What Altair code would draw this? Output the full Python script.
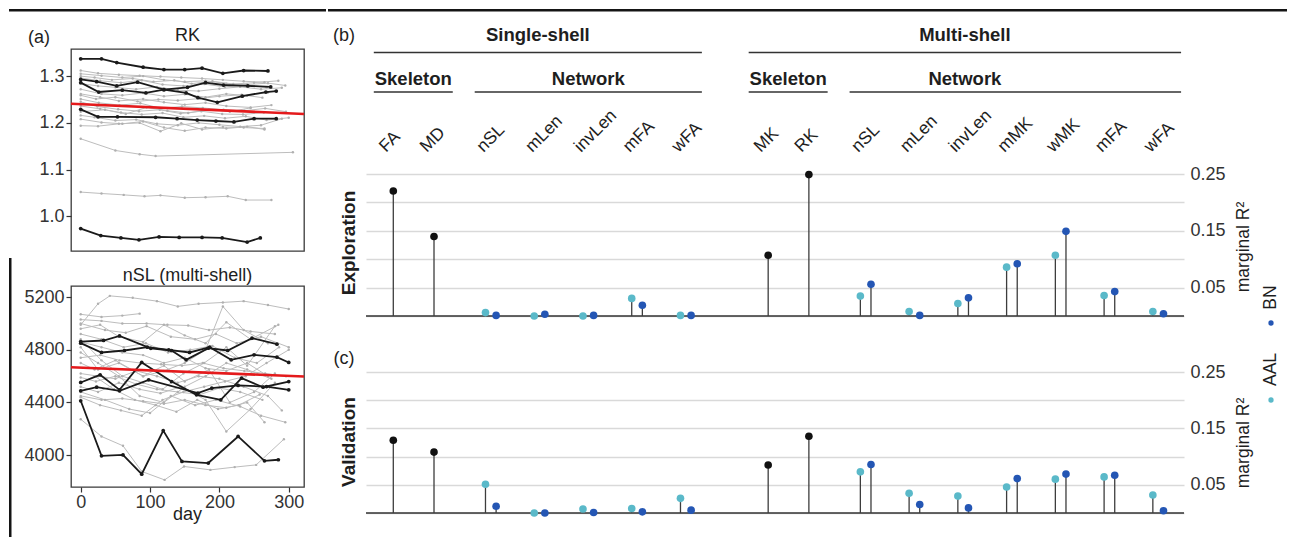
import altair as alt
import pandas as pd

FONT = "Liberation Sans"
INK = "#1e1e1e"
AX = "#333333"

# ---------------- panel (a) data: (days, values) per subject ----------------
RK_BLACK = [
    ([0, 30, 52, 90, 120, 150, 175, 205, 235, 270], [1.337, 1.337, 1.329, 1.319, 1.314, 1.314, 1.317, 1.306, 1.312, 1.311]),
    ([0, 23, 52, 82, 120, 152, 169, 197, 233, 267, 282], [1.293, 1.288, 1.279, 1.287, 1.271, 1.264, 1.254, 1.244, 1.257, 1.266, 1.268]),
    ([0, 26, 60, 94, 120, 154, 180, 206, 241, 274], [1.286, 1.266, 1.270, 1.264, 1.271, 1.276, 1.286, 1.281, 1.279, 1.277]),
    ([0, 25, 53, 108, 139, 168, 195, 221, 250, 282], [1.229, 1.213, 1.213, 1.212, 1.209, 1.206, 1.204, 1.202, 1.209, 1.209]),
    ([0, 29, 58, 84, 113, 142, 175, 204, 240, 259], [0.974, 0.959, 0.954, 0.950, 0.956, 0.955, 0.955, 0.954, 0.945, 0.954]),
]
RK_GREY = [
    ([0, 25, 55, 85, 115, 145, 175, 205, 235, 265], [1.312, 1.306, 1.303, 1.301, 1.299, 1.297, 1.295, 1.292, 1.289, 1.287]),
    ([0, 30, 60, 90, 120, 150, 180, 210, 240, 270, 295], [1.305, 1.301, 1.297, 1.300, 1.292, 1.288, 1.290, 1.284, 1.282, 1.285, 1.280]),
    ([0, 20, 45, 75, 105, 135, 160, 190, 220, 250, 285], [1.300, 1.297, 1.292, 1.295, 1.288, 1.291, 1.284, 1.289, 1.283, 1.286, 1.290]),
    ([0, 28, 58, 88, 118, 148, 178, 208, 238, 268], [1.296, 1.290, 1.286, 1.291, 1.282, 1.279, 1.283, 1.277, 1.281, 1.276]),
    ([0, 25, 50, 80, 110, 140, 170, 200, 230, 260, 290], [1.284, 1.279, 1.276, 1.272, 1.277, 1.270, 1.268, 1.273, 1.277, 1.272, 1.275]),
    ([0, 30, 60, 90, 120, 150, 180, 210, 240, 270], [1.272, 1.262, 1.259, 1.264, 1.257, 1.261, 1.255, 1.262, 1.258, 1.265]),
    ([0, 22, 50, 82, 112, 140, 172, 200, 232, 262], [1.259, 1.251, 1.255, 1.246, 1.250, 1.248, 1.252, 1.257, 1.260, 1.254]),
    ([0, 26, 56, 86, 116, 146, 176, 206, 236, 266, 296], [1.251, 1.243, 1.238, 1.242, 1.231, 1.235, 1.232, 1.228, 1.226, 1.231, 1.224]),
    ([0, 24, 54, 84, 114, 144, 174, 204, 234, 264], [1.245, 1.235, 1.229, 1.225, 1.228, 1.220, 1.225, 1.219, 1.218, 1.222]),
    ([0, 28, 58, 88, 118, 148, 178, 208, 238, 268, 300], [1.236, 1.230, 1.222, 1.218, 1.221, 1.212, 1.215, 1.210, 1.214, 1.206, 1.211]),
    ([0, 20, 50, 80, 110, 140, 170, 200, 230, 260, 290], [1.216, 1.212, 1.205, 1.207, 1.198, 1.195, 1.200, 1.196, 1.192, 1.195, 1.209]),
    ([0, 30, 60, 90, 120, 150, 180, 210, 240, 265], [1.208, 1.201, 1.198, 1.203, 1.190, 1.183, 1.190, 1.188, 1.192, 1.186]),
    ([0, 25, 55, 85, 115, 145, 175, 205, 235, 265], [1.194, 1.193, 1.198, 1.200, 1.182, 1.199, 1.186, 1.191, 1.190, 1.188]),
    ([0, 50, 85, 108, 306], [1.166, 1.141, 1.133, 1.129, 1.137]),
    ([0, 30, 62, 92, 115, 150, 180, 212, 238, 275], [1.052, 1.049, 1.046, 1.043, 1.045, 1.040, 1.041, 1.043, 1.035, 1.035]),
    ([0, 28, 55, 90, 120, 150, 180, 210, 245, 275], [1.262, 1.255, 1.247, 1.251, 1.244, 1.239, 1.243, 1.236, 1.233, 1.238]),
    ([0, 35, 65, 95, 125, 155, 185, 215, 245], [1.224, 1.228, 1.219, 1.233, 1.226, 1.221, 1.229, 1.224, 1.232]),
]
RK_FIT = [1.241, 1.219]

NSL_BLACK = [
    ([0, 33, 56, 101, 131, 152, 184, 212, 247, 283], [4863, 4871, 4906, 4812, 4795, 4724, 4813, 4795, 4889, 4843]),
    ([0, 30, 63, 96, 127, 157, 186, 217, 250, 283, 300], [4851, 4780, 4795, 4820, 4800, 4780, 4820, 4724, 4762, 4744, 4704]),
    ([0, 28, 56, 88, 131, 167, 202, 232, 263, 300], [4552, 4610, 4496, 4704, 4559, 4458, 4420, 4585, 4516, 4559]),
    ([0, 23, 56, 98, 169, 189, 227, 268, 300], [4489, 4516, 4489, 4572, 4471, 4509, 4530, 4521, 4496]),
    ([0, 30, 61, 88, 119, 146, 184, 227, 265, 285], [4413, 3995, 4002, 3855, 4187, 3952, 3940, 4142, 3957, 3965]),
]
NSL_GREY = [
    ([0, 25, 42, 75, 110, 140, 170, 205, 235, 270, 300], [4990, 5150, 5210, 5195, 5170, 5130, 5150, 5160, 5170, 5140, 5110]),
    ([0, 30, 60, 85], [5070, 5050, 5060, 5075]),
    ([0, 30, 60, 95, 125, 155, 185, 215, 245, 280], [5030, 5020, 5000, 5000, 4990, 4985, 4950, 4970, 4940, 4920]),
    ([0, 28, 55, 90, 120, 150, 180, 210, 245, 285], [4960, 4990, 4900, 4860, 4990, 4910, 4850, 5010, 4880, 4990]),
    ([0, 25, 55, 85, 120, 150, 180, 210, 240, 275], [4780, 4700, 4600, 4450, 4400, 4520, 4600, 4700, 4650, 4580]),
    ([0, 20, 50, 90, 120, 150, 185, 215, 250, 280], [4700, 4650, 4720, 4600, 4680, 4560, 4650, 4400, 4480, 4620]),
    ([0, 30, 61, 88, 121, 149, 187, 222, 253, 293], [4273, 4142, 4071, 3876, 3812, 3914, 3888, 3909, 3926, 4121]),
    ([0, 35, 70, 100, 130, 165, 195, 230, 260, 295], [4480, 4420, 4350, 4320, 4450, 4380, 4420, 4370, 4300, 4250]),
    ([0, 25, 55, 85, 115, 145, 180, 210, 245, 280], [4520, 4480, 4550, 4500, 4470, 4520, 4420, 4180, 4350, 4550]),
    ([0, 30, 60, 90, 120, 150, 180, 210, 240, 270], [4860, 4820, 4780, 4760, 4700, 4740, 4660, 4640, 4700, 4600]),
    ([0, 28, 56, 86, 116, 146, 176, 206, 236, 266, 296], [4740, 4760, 4720, 4700, 4690, 4680, 4700, 4660, 4640, 4620, 4600]),
    ([0, 22, 50, 80, 110, 140, 172, 200, 230, 262], [4590, 4560, 4600, 4540, 4500, 4480, 4460, 4510, 4480, 4420]),
    ([0, 30, 60, 90, 120, 150, 180, 210, 240, 265], [4450, 4420, 4430, 4410, 4390, 4420, 4380, 4360, 4400, 4250]),
    ([0, 25, 55, 90, 120, 150, 180, 205, 235, 270], [4820, 4650, 4700, 4600, 4640, 4700, 4800, 5130, 4950, 4850]),
    ([0, 30, 62, 94, 126, 158, 190, 222, 254, 286], [4920, 4880, 4820, 4850, 4780, 4800, 4830, 4740, 4700, 4820]),
    ([0, 25, 50, 80, 110, 140, 170, 200, 235, 270, 290], [4620, 4600, 4580, 4640, 4600, 4550, 4600, 4580, 4520, 4450, 4340]),
    ([0, 20, 48, 78, 108, 138, 168, 198, 228, 258], [4550, 4600, 4500, 4420, 4380, 4330, 4420, 4350, 4380, 4460]),
    ([0, 35, 65, 95, 130, 165, 195, 225, 260, 300], [5000, 4950, 4930, 4980, 4900, 4880, 4920, 4850, 4900, 4820]),
    ([0, 28, 58, 88, 118, 148, 178, 208, 238, 268, 300], [4440, 4380, 4340, 4300, 4420, 4480, 4520, 4560, 4600, 4700, 4800]),
    ([0, 30, 60, 90, 118, 148, 178, 210, 240, 280], [4880, 4720, 4600, 4550, 4500, 4620, 4700, 4820, 4680, 4980]),
]
NSL_FIT = [4668, 4597]

DAY_DOMAIN = [-14, 322]
DAY_TICKS = [0, 100, 200, 300]
RK_TICKS = [1.0, 1.1, 1.2, 1.3]
NSL_TICKS = [4000, 4400, 4800, 5200]

# ---------------- panels (b), (c) data ----------------
SS_SKEL = ["FA", "MD"]
SS_NET = ["nSL", "mLen", "invLen", "mFA", "wFA"]
MS_SKEL = ["MK", "RK"]
MS_NET = ["nSL", "mLen", "invLen", "mMK", "wMK", "mFA", "wFA"]

EXP_SS_SKEL = [0.220, 0.140]
EXP_SS_AAL = [0.006, 0.000, 0.000, 0.031, 0.001]
EXP_SS_BN = [0.001, 0.003, 0.001, 0.019, 0.001]
EXP_MS_SKEL = [0.107, 0.249]
EXP_MS_AAL = [0.035, 0.008, 0.022, 0.086, 0.107, 0.036, 0.008]
EXP_MS_BN = [0.056, 0.001, 0.032, 0.092, 0.149, 0.043, 0.004]

VAL_SS_SKEL = [0.129, 0.108]
VAL_SS_AAL = [0.051, 0.000, 0.007, 0.008, 0.026]
VAL_SS_BN = [0.012, 0.000, 0.001, 0.002, 0.005]
VAL_MS_SKEL = [0.085, 0.136]
VAL_MS_AAL = [0.073, 0.035, 0.030, 0.046, 0.060, 0.064, 0.032]
VAL_MS_BN = [0.086, 0.015, 0.009, 0.061, 0.069, 0.067, 0.004]

R2_TICKS = [0, 0.05, 0.10, 0.15, 0.20, 0.25]
R2_LABELS = ["0.05", "0.15", "0.25"]

# ---------------- layout constants ----------------
SKEL_STEP, NET_STEP, GROUP_GAP, SHELL_GAP = 0.835, 1.0, 1.165, 1.69
ATLAS_OFF, LABEL_SHIFT = 0.109, 0.15
BLOCKS = [("Single-shell", "Skeleton", SS_SKEL), ("Single-shell", "Network", SS_NET),
          ("Multi-shell", "Skeleton", MS_SKEL), ("Multi-shell", "Network", MS_NET)]
PADS = {("Single-shell", "Skeleton"): (0.40, 0.385), ("Single-shell", "Network"): (0.33, 0.33),
        ("Multi-shell", "Skeleton"): (0.40, 0.385), ("Multi-shell", "Network"): (0.33, 0.47)}

POS = {}
cursor, prev_shell = None, None
for shell, group, measures in BLOCKS:
    step = SKEL_STEP if group == "Skeleton" else NET_STEP
    for i, m in enumerate(measures):
        if cursor is None:
            cursor = 0.0
        elif i == 0:
            cursor += SHELL_GAP if shell != prev_shell else GROUP_GAP
        else:
            cursor += step
        POS[(shell, m)] = cursor
    prev_shell = shell

group_rows, shell_span = [], {}
for shell, group, measures in BLOCKS:
    pl, pr = PADS[(shell, group)]
    x0, x1 = POS[(shell, measures[0])] - pl, POS[(shell, measures[-1])] + pr
    group_rows.append({"shell": shell, "label": group, "x0": x0, "x1": x1})
    lo, hi = shell_span.get(shell, (x0, x1))
    shell_span[shell] = (min(lo, x0), max(hi, x1))
for r in group_rows:
    if r["shell"] == "Multi-shell" and r["label"] == "Network":
        r["tx"] = sum(shell_span[r["shell"]]) / 2
    else:
        r["tx"] = (r["x0"] + r["x1"]) / 2
GROUP_DF = pd.DataFrame(group_rows)
SHELL_DF = pd.DataFrame([{"label": s, "x0": a, "x1": b, "tx": (a + b) / 2} for s, (a, b) in shell_span.items()])
LABEL_DF = pd.DataFrame([{"label": m, "pos": POS[(s, m)] - LABEL_SHIFT} for s, g, ms in BLOCKS for m in ms])


def txt(text, x, y, size=18, weight="normal", angle=0, align="center", baseline="middle", color=INK):
    kw = dict(text=text, fontSize=size, fontWeight=weight, align=align, baseline=baseline, color=color)
    if angle:
        kw["angle"] = angle
    return alt.Chart(pd.DataFrame({"t": [text]})).mark_text(**kw).encode(x=alt.value(x), y=alt.value(y))


def box(name, x, y, x2, y2, color="#151515", opacity=1):
    """Filled strip used for the figure frame and for invisible layout anchors."""
    return alt.Chart(pd.DataFrame({"part": [name]})).mark_rect(color=color, opacity=opacity, strokeWidth=0).encode(
        x=alt.value(x), x2=alt.value(x2), y=alt.value(y), y2=alt.value(y2))


def traj_df(series, tag):
    rows = []
    for i, (d, v) in enumerate(series):
        for dd, vv in zip(d, v):
            rows.append({"sid": f"{tag}{i}", "day": dd, "value": vv})
    return pd.DataFrame(rows)


W_A = 233


def panel_a(grey, black, fit, ydom, yticks, yfmt, height, title, title_y, show_x, extras):
    xax = alt.Axis(values=DAY_TICKS, grid=False, domain=False, tickSize=5, tickColor=AX, tickWidth=1.2,
                   labelFontSize=18, labelColor=AX, labelPadding=1, title=None) if show_x else None
    xenc = alt.X("day:Q", scale=alt.Scale(domain=DAY_DOMAIN, nice=False, zero=False), axis=xax)
    yenc = alt.Y("value:Q", scale=alt.Scale(domain=ydom, nice=False, zero=False),
                 axis=alt.Axis(values=yticks, format=yfmt, grid=False, domain=False, tickSize=5,
                               tickColor=AX, tickWidth=1.2, labelFontSize=18, labelColor=AX,
                               labelPadding=2, title=None))
    g, b = traj_df(grey, "g"), traj_df(black, "b")
    f = pd.DataFrame({"day": DAY_DOMAIN, "value": fit})
    layers = extras + [
        alt.Chart(g).mark_line(color="#bdbdbd", strokeWidth=1).encode(x=xenc, y=yenc, detail="sid:N"),
        alt.Chart(g).mark_circle(color="#b0b0b0", size=6, opacity=1).encode(x=xenc, y=yenc),
        alt.Chart(b).mark_line(color="#1a1a1a", strokeWidth=1.8).encode(x=xenc, y=yenc, detail="sid:N"),
        alt.Chart(b).mark_circle(color="#1a1a1a", size=14, opacity=1).encode(x=xenc, y=yenc),
        alt.Chart(f).mark_line(color="#e41a1c", strokeWidth=2.6).encode(x=xenc, y=yenc),
        txt(title, W_A / 2, title_y),
    ]
    return alt.layer(*layers).properties(
        width=W_A, height=height,
        view=alt.ViewBackground(stroke="#3a3a3a", strokeWidth=1.3))


rk = panel_a(RK_GREY, RK_BLACK, RK_FIT, [0.926, 1.358], RK_TICKS, ".1f", 202, "RK", -13, False,
             [box("rk_left", -62, -40, -59.5, 207, opacity=0),
              box("rk_top", -62, -40, 255, -37.5),
              txt("(a)", -32, -11)])
nsl = panel_a(NSL_GREY, NSL_BLACK, NSL_FIT, [3758, 5285], NSL_TICKS, "d", 201, "nSL (multi-shell)", -10, True,
              [box("nsl_left", -62, -28, -59.5, 251, color="#141414"),
               txt("day", W_A / 2, 234, baseline="alphabetic")])

# ---------------- lollipop panels ----------------
W_B = 818
X_DOM = [-0.56, 16.22]
AAL_C, BN_C, SK_C = "#5ab9c9", "#2456b4", "#111111"


def lolli_df(ss_skel, ss_aal, ss_bn, ms_skel, ms_aal, ms_bn):
    rows = []

    def add(shell, measures, series, values, off):
        for m, v in zip(measures, values):
            rows.append({"pos": POS[(shell, m)] + off, "value": v, "zero": 0.0, "series": series})
    add("Single-shell", SS_SKEL, "Skeleton", ss_skel, 0)
    add("Single-shell", SS_NET, "AAL", ss_aal, -ATLAS_OFF)
    add("Single-shell", SS_NET, "BN", ss_bn, ATLAS_OFF)
    add("Multi-shell", MS_SKEL, "Skeleton", ms_skel, 0)
    add("Multi-shell", MS_NET, "AAL", ms_aal, -ATLAS_OFF)
    add("Multi-shell", MS_NET, "BN", ms_bn, ATLAS_OFF)
    return pd.DataFrame(rows)


def xq(field):
    return alt.X(field, scale=alt.Scale(domain=X_DOM, nice=False, zero=False), axis=None)


def lolli_layers(df, yrange):
    label_expr = ("indexof(" + str(R2_LABELS) + ", format(datum.value, '.2f')) >= 0 ? "
                  "format(datum.value, '.2f') : ''")
    yax = alt.Axis(orient="right", values=R2_TICKS, labelExpr=label_expr, grid=True, gridColor="#d9d9d9",
                   gridWidth=1.3, ticks=False, domain=False, labelPadding=6, labelFontSize=18,
                   labelColor=AX, title=None)
    if yrange:
        ysc = alt.Scale(domain=[0, 0.25], nice=False, zero=False, range=yrange)
    else:
        ysc = alt.Scale(domain=[0, 0.25], nice=False, zero=False)
    yenc = alt.Y("value:Q", scale=ysc, axis=yax)
    xenc = xq("pos:Q")
    base = alt.Chart(pd.DataFrame({"value": [0.0]})).mark_rule(color="#333333", strokeWidth=1.5).encode(y=yenc)
    stems = alt.Chart(df).mark_rule(color="#3d3d3d", strokeWidth=1.3).encode(x=xenc, y=yenc, y2="zero:Q")
    dots = alt.Chart(df).mark_circle(size=58, opacity=1).encode(
        x=xenc, y=yenc,
        color=alt.Color("series:N", scale=alt.Scale(domain=["Skeleton", "AAL", "BN"],
                                                     range=[SK_C, AAL_C, BN_C]), legend=None))
    return [base, stems, dots]


H_B, BAND_B, H_C = 267, 142, 141
exp_df = lolli_df(EXP_SS_SKEL, EXP_SS_AAL, EXP_SS_BN, EXP_MS_SKEL, EXP_MS_AAL, EXP_MS_BN)
val_df = lolli_df(VAL_SS_SKEL, VAL_SS_AAL, VAL_SS_BN, VAL_MS_SKEL, VAL_MS_AAL, VAL_MS_BN)

cat_labels = alt.Chart(LABEL_DF).mark_text(angle=315, align="left", baseline="alphabetic", fontSize=17.5,
                                           color=INK).encode(x=xq("pos:Q"), y=alt.value(104), text="label:N")
shell_rules = alt.Chart(SHELL_DF).mark_rule(color="#333333", strokeWidth=1.3).encode(
    x=xq("x0:Q"), x2="x1:Q", y=alt.value(3.5))
group_rules = alt.Chart(GROUP_DF).mark_rule(color="#333333", strokeWidth=1.3).encode(
    x=xq("x0:Q"), x2="x1:Q", y=alt.value(43))
shell_text = alt.Chart(SHELL_DF).mark_text(fontSize=18.5, fontWeight="bold", color=INK).encode(
    x=xq("tx:Q"), y=alt.value(-14), text="label:N")
group_text = alt.Chart(GROUP_DF).mark_text(fontSize=18.5, fontWeight="bold", color=INK).encode(
    x=xq("tx:Q"), y=alt.value(30), text="label:N")


def legend_dot(color, x, y):
    return alt.Chart(pd.DataFrame({"c": [color]})).mark_circle(size=28, color=color, opacity=1).encode(
        x=alt.value(x), y=alt.value(y))


b = alt.layer(*lolli_layers(exp_df, [H_B, H_B - BAND_B]),
              cat_labels, shell_rules, group_rules, shell_text, group_text,
              txt("(b)", -22, -13),
              txt("Exploration", -17, 194, size=19, weight="bold", angle=270),
              txt("marginal R²", 878, 198, size=17.5, angle=270),
              txt("BN", 904.5, 248.5, size=17.5, angle=270),
              legend_dot(BN_C, 905, 274),
              box("b_top", -38, -40, 921, -37.5),
              box("b_anchor", 0, 284, 10, 285, opacity=0),
              ).properties(width=W_B, height=H_B, view=alt.ViewBackground(stroke="transparent"))

c = alt.layer(*lolli_layers(val_df, None),
              txt("(c)", -22, -13),
              txt("Validation", -17, 70, size=19, weight="bold", angle=270),
              txt("marginal R²", 878, 71, size=17.5, angle=270),
              txt("AAL", 905, -2.5, size=17.5, angle=270),
              legend_dot(AAL_C, 905, 28),
              box("c_anchor", -38, -36, 10, -35, opacity=0),
              ).properties(width=W_B, height=H_C, view=alt.ViewBackground(stroke="transparent"))

left = alt.vconcat(rk, nsl, spacing=0)
right = alt.vconcat(b, c, spacing=0)
chart = alt.hconcat(left, right, spacing=0).properties(padding=0, background="white").configure(
    font=FONT).configure_view(stroke="transparent")

chart.save("out.html", embed_options={"renderer": "svg", "actions": False})
